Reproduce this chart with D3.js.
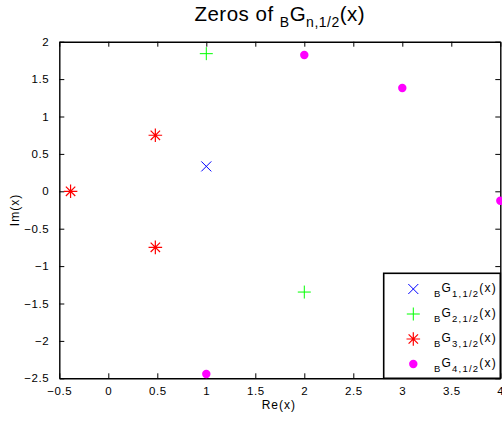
<!DOCTYPE html>
<html><head><meta charset="utf-8">
<script src="https://cdn.jsdelivr.net/npm/d3@7"></script>
<style>body{margin:0;background:#fff}svg{display:block}text{font-family:"Liberation Sans",Arial,Helvetica,sans-serif;fill:#000}</style>
</head><body>
<script>
const seriesNames = ["1", "2", "3", "4"];
const seriesColors = ["#0000ff", "#00ff00", "#ff0000", "#ff00ff"];
const seriesMarkers = ["cross", "plus", "star", "circle"];
const g1Re = [1];
const g1Im = [0.333];
const g2Re = [1, 2];
const g2Im = [1.84, -1.347];
const g3Re = [-0.385, 0.48, 0.48];
const g3Im = [0, 0.749, -0.749];
const g4Re = [2, 3, 1, 4];
const g4Im = [1.822, 1.381, -2.443, -0.127];
const xTicks = [-0.5, 0, 0.5, 1, 1.5, 2, 2.5, 3, 3.5, 4];
const yTicks = [-2.5, -2, -1.5, -1, -0.5, 0, 0.5, 1, 1.5, 2];

const W = 502, H = 422;
const L = 59.3, R = 500.3, T = 41.7, B = 378.3;
const svg = d3.select("body").append("svg").attr("width", W).attr("height", H);
const x = d3.scaleLinear().domain([-0.5, 4]).range([L, R]);
const y = d3.scaleLinear().domain([-2.5, 2]).range([B, T]);
const fmt = d => (d < 0 ? "\u2212" : "") + String(Math.abs(d));

// axes with inward ticks
const ax = [
  d3.axisBottom(x).tickValues(xTicks).tickFormat(fmt).tickSizeInner(-5).tickSizeOuter(0).tickPadding(9),
  d3.axisTop(x).tickValues(xTicks).tickFormat("").tickSizeInner(-5).tickSizeOuter(0),
  d3.axisLeft(y).tickValues(yTicks).tickFormat(fmt).tickSizeInner(-5).tickSizeOuter(0).tickPadding(10),
  d3.axisRight(y).tickValues(yTicks).tickFormat("").tickSizeInner(-5).tickSizeOuter(0)
];
const pos = [[0, B], [0, T], [L, 0], [R, 0]];
ax.forEach((a, i) => {
  const g = svg.append("g").attr("transform", `translate(${pos[i][0]},${pos[i][1]})`).call(a);
  g.selectAll("text").style("font-size", "11.5px").style("letter-spacing", "0.6px")
    .style("font-family", '"Liberation Sans",Arial,sans-serif').attr("fill", "#000");
  g.select(".domain").attr("stroke", "#000").attr("stroke-width", 1.4);
  g.selectAll(".tick line").attr("stroke", "#000").attr("stroke-width", 1);
});

function marker(sel, type, color, cx, cy) {
  const g = sel.append("g").attr("transform", `translate(${cx},${cy})`)
    .attr("stroke", color).attr("stroke-width", 1).attr("fill", "none");
  if (type === "cross") {
    g.append("path").attr("d", "M-5,-5L5,5M-5,5L5,-5");
  } else if (type === "plus") {
    g.append("path").attr("d", "M-6.5,0L6.5,0M0,-6.5L0,6.5");
  } else if (type === "star") {
    g.attr("stroke-width", 1.2);
    g.append("path").attr("d", "M-6.8,0L6.8,0M0,-6.8L0,6.8M-4.7,-4.7L4.7,4.7M-4.7,4.7L4.7,-4.7");
  } else {
    g.append("circle").attr("r", 4.2).attr("fill", color).attr("stroke", "none");
  }
}

const data = [[g1Re, g1Im], [g2Re, g2Im], [g3Re, g3Im], [g4Re, g4Im]];
data.forEach((s, i) => {
  s[0].forEach((re, j) => marker(svg, seriesMarkers[i], seriesColors[i], x(re), y(s[1][j])));
});

// title
const title = svg.append("text").attr("x", (L + R) / 2).attr("y", 21).attr("text-anchor", "middle")
  .style("font-size", "20.5px").style("letter-spacing", "0.5px");
title.append("tspan").text("Zeros of ");
title.append("tspan").attr("dy", 6).style("font-size", "14px").text("B");
title.append("tspan").attr("dy", -6).text("G");
title.append("tspan").attr("dy", 6).style("font-size", "14px").text("n,1/2");
title.append("tspan").attr("dy", -6).text("(x)");

// axis labels
svg.append("text").attr("x", (L + R) / 2 - 1).attr("y", 409).attr("text-anchor", "middle")
  .style("font-size", "12px").style("letter-spacing", "1px").text("Re(x)");
svg.append("text").attr("transform", `translate(19,${(T + B) / 2}) rotate(-90)`).attr("text-anchor", "middle")
  .style("font-size", "12px").style("letter-spacing", "1px").text("Im(x)");

// legend
const lg = svg.append("g");
lg.append("rect").attr("x", 383.7).attr("y", 273.3).attr("width", R - 383.7).attr("height", B - 273.3)
  .attr("fill", "#fff").attr("stroke", "#000").attr("stroke-width", 1.6);
seriesNames.forEach((n, i) => {
  const yy = 289 + i * 25;
  marker(lg, seriesMarkers[i], seriesColors[i], 413.3, yy);
  const t = lg.append("text").attr("x", 434).attr("y", yy + 3).style("font-size", "12px").style("letter-spacing", "1.2px");
  t.append("tspan").attr("dy", 5).style("font-size", "9.5px").text("B");
  t.append("tspan").attr("dy", -5).text("G");
  t.append("tspan").attr("dy", 5).style("font-size", "9.5px").text(n + ",1/2");
  t.append("tspan").attr("dy", -5).text("(x)");
});
</script>
</body></html>
